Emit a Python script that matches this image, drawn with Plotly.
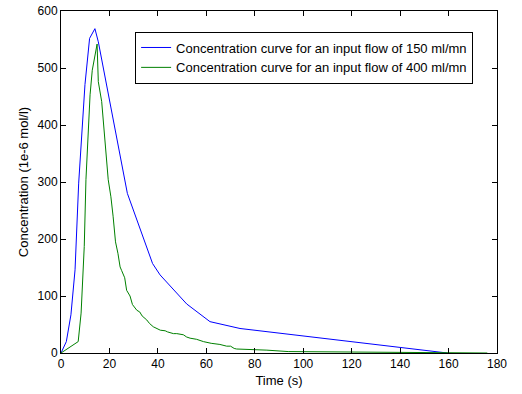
import plotly.graph_objects as go

blue_t = [0, 2.2, 4.1, 5.8, 7.3, 9.9, 11.8, 14.0, 15.4, 27.4, 37.8, 40.9, 51.9, 61.5, 73.9, 159.5]
blue_v = [0, 20, 67, 146, 298, 471, 552, 569, 546, 280, 157, 137, 86, 55, 43, 0]

green_t = [0, 7.1, 8.3, 9.6, 10.3, 12.0, 12.9, 14.9, 15.4, 16.8, 19.5, 20.6, 21.5, 22.5, 23.5,
           24.4, 25, 26.3, 27.1, 28.5, 29.5, 30.6, 31.3, 32.5, 33.5, 35.4, 36.5, 38.1, 40,
           41, 43, 44, 46.4, 47.8, 50.5, 51.9, 53.3, 56, 58.8, 62, 65.6, 68.4, 70, 71.5,
           72.5, 80, 85, 93.8, 110, 140, 160, 176]
green_v = [0, 20, 70, 187, 304, 453, 496, 542, 476, 441, 304, 274, 240, 195, 175,
           151, 145, 132, 110, 100, 85, 78, 75, 72, 65, 58, 52, 46, 42,
           40, 39, 37, 34, 34, 32, 28, 26, 24, 20, 17, 15, 12, 12, 8,
           7, 6, 5, 2.5, 2, 1.5, 1, 0]

name_blue = "Concentration curve for an input flow of 150 ml/mn"
name_green = "Concentration curve for an input flow of 400 ml/mn"

x_ticks = [0, 20, 40, 60, 80, 100, 120, 140, 160, 180]
y_ticks = [0, 100, 200, 300, 400, 500, 600]

family = "Liberation Sans, Arial, sans-serif"
tick_font = dict(family=family, size=12, color="black")
text_font = dict(family=family, size=13, color="black")

fig = go.Figure()
fig.add_trace(go.Scatter(x=blue_t, y=blue_v, mode="lines", name=name_blue,
                         line=dict(color="#0000ff", width=1)))
fig.add_trace(go.Scatter(x=green_t, y=green_v, mode="lines", name=name_green,
                         line=dict(color="#008000", width=1)))

axis_common = dict(showgrid=False, zeroline=False, showline=True, linecolor="black",
                   linewidth=1, mirror="ticks", ticks="inside", ticklen=5,
                   tickcolor="black", tickfont=tick_font)

fig.update_layout(
    width=522, height=394,
    margin=dict(l=61, r=25, t=11, b=41, autoexpand=False),
    paper_bgcolor="white", plot_bgcolor="white",
    font=text_font,
    showlegend=True,
    legend=dict(x=0.17, y=0.94, xanchor="left", yanchor="top",
                bordercolor="black", borderwidth=1, bgcolor="white",
                font=text_font, itemwidth=30),
    xaxis=dict(range=[0, 180], tickvals=x_ticks,
               title=dict(text="Time (s)", font=text_font, standoff=5), **axis_common),
    yaxis=dict(range=[0, 600], tickvals=y_ticks,
               title=dict(text="Concentration (1e-6 mol/l)", font=text_font, standoff=6),
               **axis_common),
)

fig.write_html("out.html")
